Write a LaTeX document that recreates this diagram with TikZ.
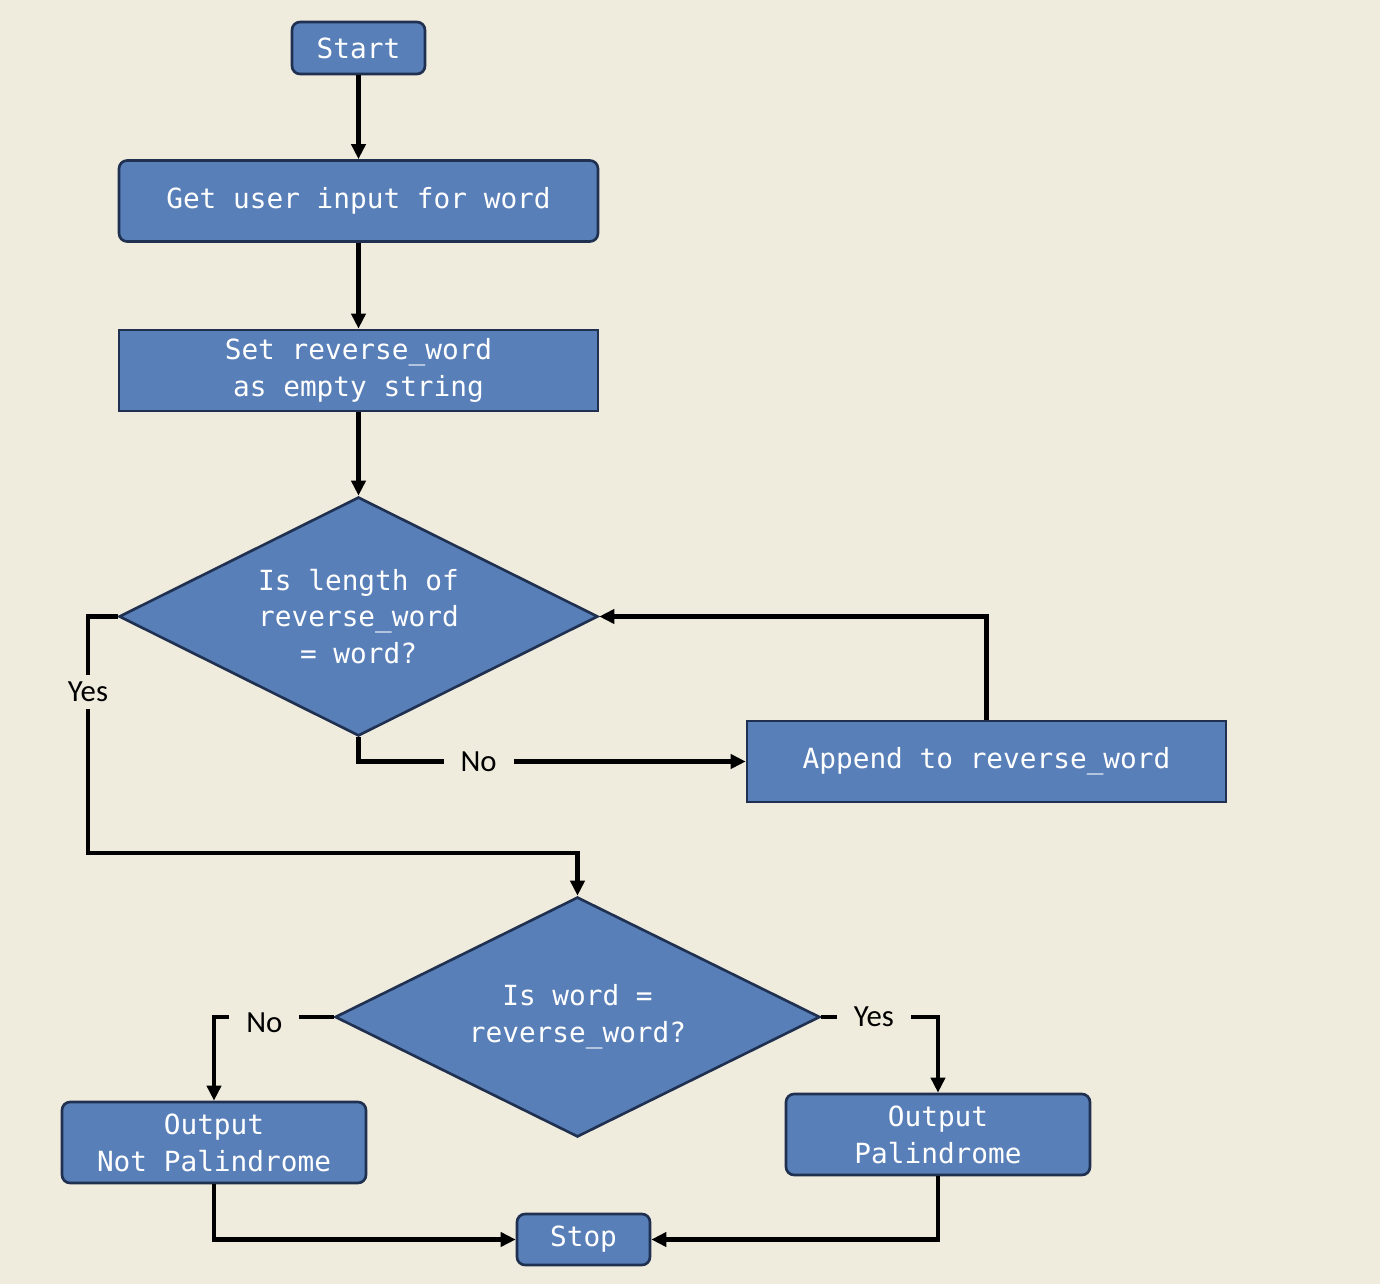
\documentclass[tikz,border=0pt]{standalone}
\usepackage{fontspec}
\setmonofont{DejaVu Sans Mono}
\newfontfamily\labelfont{Carlito}
\usetikzlibrary{shapes.geometric, arrows.meta}
\definecolor{paper}{RGB}{240,236,221}
\definecolor{boxblue}{RGB}{88,127,184}
\definecolor{boxline}{RGB}{31,48,80}

\begin{document}
\begin{tikzpicture}[x=0.02cm, y=-0.02cm,
    box/.style={draw=boxline, fill=boxblue, line width=1.5pt, text=white,
      font=\ttfamily\fontsize{15.8}{21}\selectfont, align=center, inner sep=0pt,
      minimum width=9.58cm, minimum height=1.62cm},
    roundbox/.style={box, rounded corners=0.16cm},
    decision/.style={box, diamond, aspect=2},
    lbl/.style={fill=paper, text=black, font=\labelfont\fontsize{17.5}{19}\selectfont,
      inner xsep=0.34cm, inner ysep=0.14cm}]

  \fill[paper] (0,0) rectangle (1380,1284);

  \begin{scope}
    \node (start) [roundbox, minimum width=2.66cm, minimum height=1.04cm] at (358.5,48) {Start};
    \node (getword) [roundbox] at (358.5,201) {Get user input for word};
    \node (setrev) [box] at (358.5,370.5) {Set reverse\_word\\as empty string};
    \node (lencheck) [decision, minimum width=9.58cm, minimum height=4.78cm] at (358.5,616.5) {Is length of\\reverse\_word\\= word?};
    \node (append) [box] at (986.5,761.5) {Append to reverse\_word};
    \node (wordcheck) [decision, minimum width=9.7cm, minimum height=4.8cm] at (577.5,1017) {Is word =\\reverse\_word?};
    \node (notpal) [roundbox, minimum width=6.08cm] at (214,1142.5) {Output\\Not Palindrome};
    \node (pal) [roundbox, minimum width=6.08cm] at (938,1134.5) {Output\\Palindrome};
    \node (stop) [roundbox, minimum width=2.66cm, minimum height=1.02cm] at (583.5,1239.5) {Stop};
    \coordinate (yesbend) at (88,853);
  \end{scope}

  \begin{scope}[line width=2.3pt, -{Triangle[length=0.3cm, width=0.28cm]}]
    \draw (start) -- (getword);
    \draw (getword) -- (setrev);
    \draw (setrev) -- (lencheck);
    \draw (lencheck.west) -| node[lbl, pos=0.66] {Yes} (yesbend) -| (wordcheck.north);
    \draw (lencheck.south) |- node[lbl, pos=0.655] {No} (append.west);
    \draw (append.north) |- (lencheck.east);
    \draw (wordcheck.west) -| node[lbl, pos=0.29, yshift=-0.12cm] {No} (notpal.north);
    \draw (wordcheck.east) -| node[lbl, pos=0.225] {Yes} (pal.north);
    \draw (notpal.south) |- (stop.west);
    \draw (pal.south) |- (stop.east);
  \end{scope}
\end{tikzpicture}
\end{document}
